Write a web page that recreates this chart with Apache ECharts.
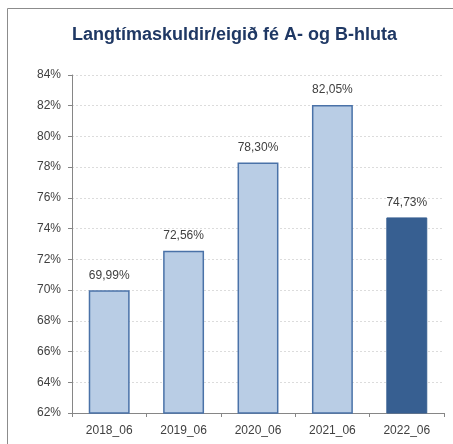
<!DOCTYPE html>
<html>
<head>
<meta charset="utf-8">
<script src="https://cdn.jsdelivr.net/npm/echarts@6/dist/echarts.min.js"></script>
<style>
  html, body { margin: 0; padding: 0; background: #fff; }
  #chart { width: 453px; height: 444px; }
</style>
</head>
<body>
<div id="chart"></div>
<script>
// gögn lesin af myndinni
const categories = ["2018_06", "2019_06", "2020_06", "2021_06", "2022_06"];
const values = [69.99, 72.56, 78.30, 82.05, 74.73];
const highlightIndex = 4; // síðasta súlan dökk

const chart = echarts.init(document.getElementById("chart"));

const fmtPct = v => v.toFixed(2).replace(".", ",") + "%";

chart.setOption({
  animation: false,
  textStyle: { fontFamily: "Liberation Sans, Arial, sans-serif" },
  title: {
    text: "Langtímaskuldir/eigið fé A- og B-hluta",
    left: 67,
    top: 21,
    textStyle: { fontSize: 18, fontWeight: "bold", color: "#1F3864" }
  },
  graphic: [{
    // rammi utan um myndina
    type: "rect",
    shape: { x: 7.5, y: 8.5, width: 460, height: 450 },
    style: { fill: "none", stroke: "#8c8c8c", lineWidth: 1 },
    silent: true
  }],
  grid: { left: 72, right: 9, top: 75, bottom: 31 },
  xAxis: {
    type: "category",
    data: categories,
    axisLine: { lineStyle: { color: "#868686" } },
    axisTick: { show: true, length: 4, alignWithLabel: false, lineStyle: { color: "#868686" } },
    axisLabel: { color: "#404040", fontSize: 12, margin: 12 }
  },
  yAxis: {
    type: "value",
    min: 62,
    max: 84,
    interval: 2,
    axisLine: { show: true, lineStyle: { color: "#868686" } },
    axisTick: { show: true, length: 4, lineStyle: { color: "#868686" } },
    axisLabel: { color: "#404040", fontSize: 12, margin: 11, formatter: v => v + "%" },
    splitLine: { lineStyle: { color: "#dcdcdc", type: [2, 2] } }
  },
  series: [{
    type: "bar",
    barWidth: "55%",
    data: values.map((v, i) => ({
      value: v,
      itemStyle: i === highlightIndex
        ? { color: "#375F91", borderColor: "#375F91", borderWidth: 1 }
        : { color: "#B9CDE5", borderColor: "#4A72A8", borderWidth: 1.5 }
    })),
    label: {
      show: true,
      position: "top",
      distance: 9,
      color: "#404040",
      fontSize: 12,
      formatter: p => fmtPct(p.value)
    }
  }]
});
</script>
</body>
</html>
